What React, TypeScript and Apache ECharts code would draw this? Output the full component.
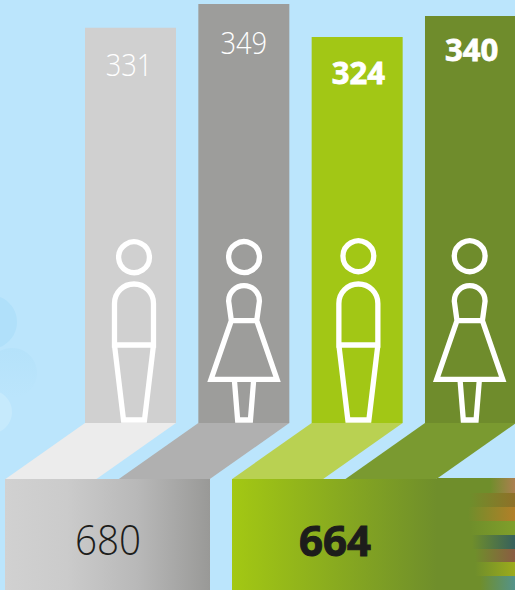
import React, { useEffect, useRef } from "react";
import * as echarts from "echarts";

const genders = ["Men A", "Women A", "Men B", "Women B"];
const counts = [331, 349, 324, 340];
const groups = ["Group A", "Group B"];
const totals = [680, 664];

const barColors = ["#d0d0d0", "#9d9d9b", "#a2c715", "#6f8c2c"];
const floorColors = ["#ececec", "#b0b0b0", "#b9d152", "#7a9a30"];

// The bars in the picture fit a baseline of about 31.6, not zero.
const AXIS_MIN = 31.6;
const AXIS_MAX = 349;

const ICON_DX = [3.5, 0.2, 1.2, -0.8];
const LABEL_DX = [-1.5, 0, 1.2, 1.2];
const LABEL_DY = [37, 38, 35, 33];
const BG = "#bbe5fc";

const manPath =
  "M-19.5,-78 L-19.5,-119.5 A19.5,19.5 0 0 1 19.5,-119.5 L19.5,-78 Z " +
  "M-19.5,-78 L-10.5,-3 L10.5,-3 L19.5,-78";
const womanPath =
  "M-12.7,-102.3 L-15.4,-122 A15.4,15.4 0 0 1 15.4,-122 L12.7,-102.3 Z " +
  "M-12.7,-102.3 L-33,-43.7 L33,-43.7 L12.7,-102.3 " +
  "M-9.7,-43.7 L-6.4,-3 L6.4,-3 L9.7,-43.7";

const stripes = [
  { y: 478, h: 15, start: 490, color: "#ac7f50" },
  { y: 493, h: 14, start: 470, color: "#8f7028" },
  { y: 507, h: 14, start: 468, color: "#b27f28" },
  { y: 521, h: 14, start: 470, color: "#7f9f2a" },
  { y: 535, h: 14, start: 472, color: "#36605c" },
  { y: 549, h: 13, start: 475, color: "#8a5c42" },
  { y: 562, h: 14, start: 475, color: "#9cab1c" },
  { y: 576, h: 14, start: 480, color: "#54938a" },
];

const hGrad = (stops: [number, string][]) => ({
  type: "linear",
  x: 0,
  y: 0,
  x2: 1,
  y2: 0,
  colorStops: stops.map(([offset, color]) => ({ offset, color })),
});

const option: any = {
  animation: false,
  backgroundColor: BG,
  grid: [
    { left: 73.83, top: 4, width: 453.33, height: 419, outerBoundsMode: "none" },
    { left: -6, top: 479, width: 454, height: 111, outerBoundsMode: "none" },
  ],
  xAxis: [
    { type: "category", gridIndex: 0, data: genders, show: false },
    { type: "category", gridIndex: 1, data: groups, show: false },
  ],
  yAxis: [
    { type: "value", gridIndex: 0, min: AXIS_MIN, max: AXIS_MAX, show: false },
    { type: "value", gridIndex: 1, min: 0, max: 1000, show: false },
  ],
  graphic: [
    { type: "circle", shape: { cx: -10, cy: 322, r: 27 }, style: { fill: "#b0e0fa" }, silent: true },
    {
      type: "circle",
      shape: { cx: 12, cy: 373, r: 25 },
      style: {
        fill: { type: "linear", x: 0, y: 0, x2: 0, y2: 1, colorStops: [{ offset: 0, color: "#b5e2fa" }, { offset: 1, color: BG }] },
      },
      silent: true,
    },
    { type: "circle", shape: { cx: -10, cy: 412, r: 22 }, style: { fill: "#c6eafc" }, silent: true },
    { type: "rect", shape: { x: 437, y: 478, width: 78, height: 112 }, style: { fill: "#6f8e2b" }, silent: true },
    ...stripes.map((s) => ({
      type: "rect",
      shape: { x: s.start, y: s.y, width: 515 - s.start, height: s.h },
      style: { fill: hGrad([[0, "#6f8e2b"], [1, s.color]]) },
      silent: true,
    })),
  ],
  series: [
    {
      type: "custom",
      name: "floors",
      xAxisIndex: 0,
      yAxisIndex: 0,
      z: 1,
      silent: true,
      clip: false,
      data: counts.map((v, i) => [i, v]),
      renderItem: (_p: any, api: any) => {
        const i = api.value(0);
        const [cx, base] = api.coord([i, AXIS_MIN]);
        const l = cx - 45.5;
        const r = cx + 45.5;
        const dx = 79.5;
        return {
          type: "polygon",
          shape: { points: [[l, base], [r, base], [r - dx, base + 56], [l - dx, base + 56]] },
          style: { fill: floorColors[i] },
        };
      },
    },
    {
      type: "bar",
      name: "counts",
      xAxisIndex: 0,
      yAxisIndex: 0,
      barWidth: 91,
      z: 2,
      silent: true,
      data: counts.map((v, i) => ({ value: v, itemStyle: { color: barColors[i] } })),
    },
    {
      type: "custom",
      name: "figures",
      xAxisIndex: 0,
      yAxisIndex: 0,
      z: 3,
      silent: true,
      data: counts.map((v, i) => [i, v]),
      renderItem: (_p: any, api: any) => {
        const i = api.value(0);
        const v = api.value(1);
        const [cx, base] = api.coord([i, AXIS_MIN]);
        const [, top] = api.coord([i, v]);
        const isWoman = i % 2 === 1;
        const isGreen = i >= 2;
        const ix = cx + ICON_DX[i];
        const stroke = { stroke: "#fff", lineWidth: 5.3, fill: "none", lineJoin: "miter" };
        return {
          type: "group",
          children: [
            { type: "circle", shape: { cx: ix, cy: base - 166.8, r: 15.4 }, style: stroke },
            {
              type: "path",
              x: ix,
              y: base,
              shape: { pathData: isWoman ? womanPath : manPath },
              style: stroke,
            },
            {
              type: "text",
              x: cx + LABEL_DX[i],
              y: top + LABEL_DY[i],
              scaleX: isGreen ? 1 : 0.88,
              style: {
                text: String(v),
                fontFamily: "Open Sans",
                fontSize: 31,
                fontWeight: isGreen ? 700 : 300,
                fill: "#fff",
                stroke: isGreen ? "#fff" : "none",
                lineWidth: isGreen ? 0.8 : 0,
                align: "center",
                verticalAlign: "middle",
              },
            },
          ],
        };
      },
    },
    {
      type: "custom",
      name: "totals",
      xAxisIndex: 1,
      yAxisIndex: 1,
      z: 4,
      silent: true,
      clip: false,
      data: totals.map((v, i) => [i, v]),
      renderItem: (p: any, api: any) => {
        const i = api.value(0);
        const v = api.value(1);
        const [cx] = api.coord([i, 0]);
        const box = p.coordSys;
        const fill =
          i === 0
            ? hGrad([[0, "#d1d1d1"], [0.3, "#cbcbcb"], [0.65, "#b8b8b8"], [1, "#999997"]])
            : hGrad([[0, "#a3c813"], [1, "#6f8e2b"]]);
        return {
          type: "group",
          children: [
            { type: "rect", shape: { x: cx - 102.5, y: box.y, width: 205, height: box.height }, style: { fill } },
            {
              type: "text",
              x: cx + 0.5,
              y: box.y + 60,
              scaleX: i === 0 ? 0.92 : 1,
              style: {
                text: String(v),
                fontFamily: "Open Sans",
                fontSize: 42,
                fontWeight: i === 0 ? 300 : 700,
                fill: "#1d1d1b",
                stroke: i === 0 ? "none" : "#1d1d1b",
                lineWidth: i === 0 ? 0 : 1,
                align: "center",
                verticalAlign: "middle",
              },
            },
          ],
        };
      },
    },
  ],
};

export default function App() {
  const ref = useRef<HTMLDivElement>(null);
  useEffect(() => {
    document.body.style.margin = "0";
    const chart = echarts.init(ref.current!, null, { renderer: "svg" });
    chart.setOption(option);
    return () => chart.dispose();
  }, []);
  return <div ref={ref} style={{ width: 515, height: 590, overflow: "hidden" }} />;
}
